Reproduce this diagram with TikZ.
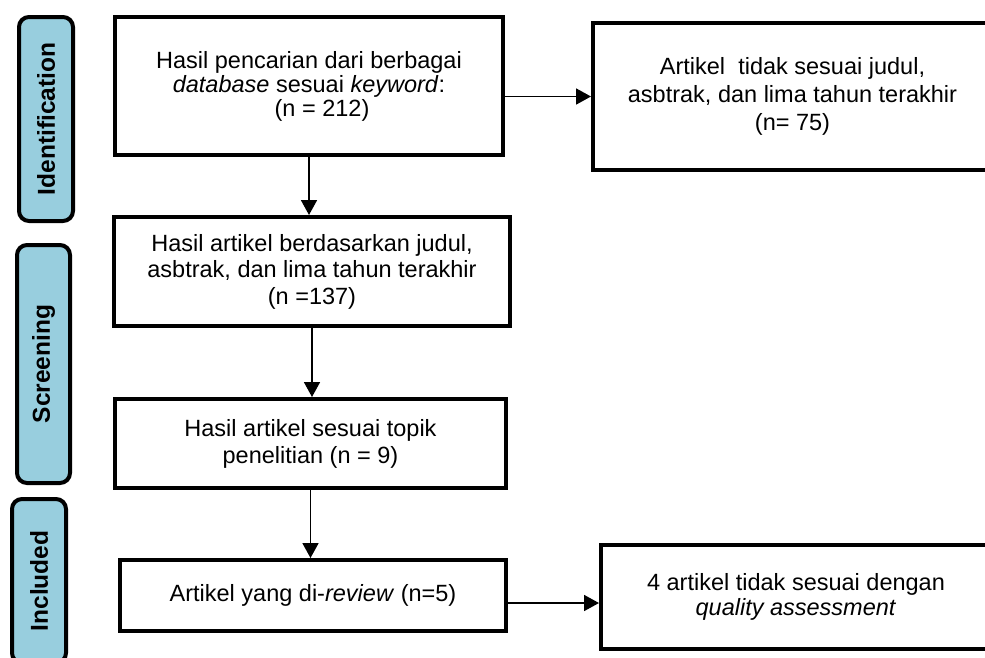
\documentclass[tikz,border=0pt]{standalone}
\usepackage{fontspec}
\setmainfont{Liberation Sans}
\usetikzlibrary{arrows.meta}
\definecolor{phasecol}{RGB}{152,206,222}
\tikzset{
  box/.style={draw, line width=4pt, rectangle, inner sep=0pt, align=center},
  phase/.style={draw, line width=4pt, rounded corners=10pt, fill=phasecol, inner sep=0pt,
    rotate=90, font=\bfseries\fontsize{24.5}{26}\selectfont},
  arr/.style={line width=1.8pt, -{Triangle[length=15pt,width=16pt]}}
}
\begin{document}
\begin{tikzpicture}[x=1pt,y=-1pt]
\useasboundingbox (0,0) rectangle (985,657);
% phase labels
\node[phase, minimum width=204pt, minimum height=54pt] (L1) at (46,119) {Identification};
\node[phase, minimum width=238pt, minimum height=53pt] (L2) at (43.5,364) {Screening};
\node[phase, minimum width=164pt, minimum height=54pt] (L3) at (39,581) {Included};
% boxes
\node[box, minimum width=388pt, minimum height=138pt, font=\fontsize{23.5}{24}\selectfont] (b1) at (309,86)
  {Hasil pencarian dari berbagai\\ \textit{database} sesuai \textit{keyword}:\\ \hspace*{26pt}(n = 212)};
\node[box, minimum width=399pt, minimum height=147pt, font=\fontsize{23.5}{28}\selectfont] (tr) at (792.5,96.5)
  {Artikel~ tidak sesuai judul,\\ asbtrak, dan lima tahun terakhir\\ (n= 75)};
\node[box, minimum width=396pt, minimum height=109pt, font=\fontsize{23.5}{26.5}\selectfont] (b2) at (312,271.5)
  {Hasil artikel berdasarkan judul,\\ asbtrak, dan lima tahun terakhir\\ (n =137)};
\node[box, minimum width=391pt, minimum height=89pt, font=\fontsize{23.5}{27}\selectfont] (b3) at (310.5,443.5)
  {Hasil artikel sesuai topik\\ penelitian (n = 9)};
\node[box, minimum width=386pt, minimum height=71pt, font=\fontsize{23.5}{25}\selectfont] (b4) at (313,595.5)
  {Artikel yang di-\textit{review} (n=5)};
\node[box, minimum width=390pt, minimum height=104pt, font=\fontsize{23.5}{25}\selectfont] (b5) at (796,597)
  {4 artikel tidak sesuai dengan\\ \textit{quality assessment}};
% connectors
\draw[arr] (b1.south) -- (b1.south |- b2.north);
\draw[arr] (b2.south) -- (b2.south |- b3.north);
\draw[arr] (b3.south) -- (b3.south |- b4.north);
\draw[arr] (b1.east |- tr.west) -- (tr.west);
\draw[arr] (b4.east) ++(0,7.5) coordinate (r5) -- (r5 -| b5.west);
\end{tikzpicture}
\end{document}
